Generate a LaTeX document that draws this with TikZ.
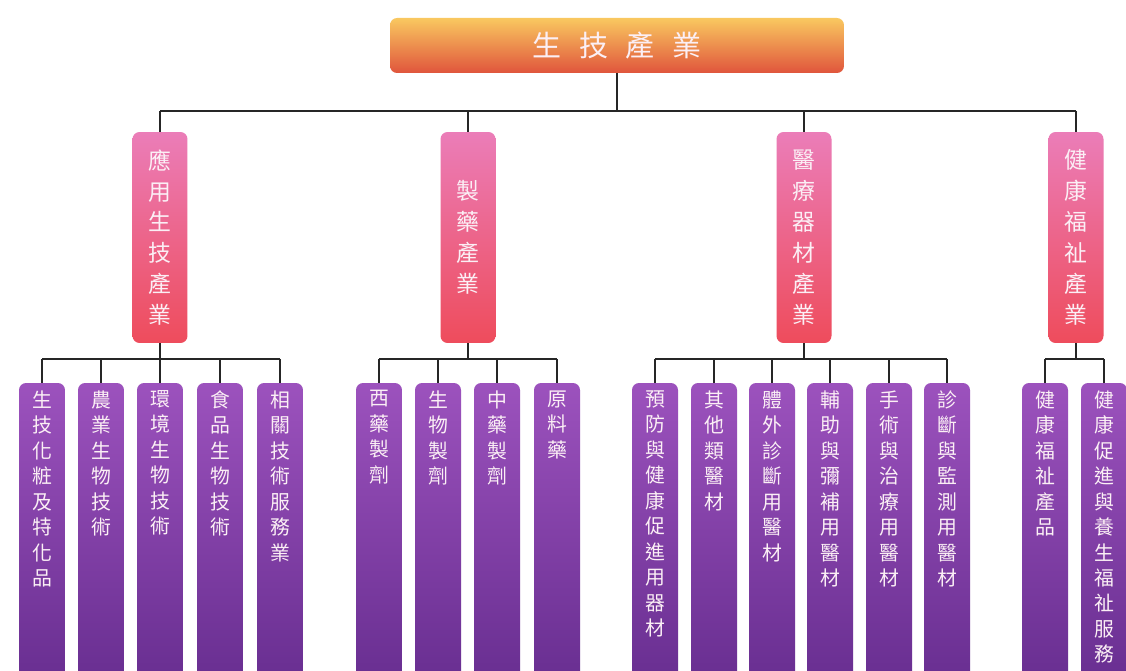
\documentclass[tikz,border=0pt]{standalone}
\usepackage{fontspec}
\setmainfont{Noto Sans CJK TC}
\usetikzlibrary{positioning}
\definecolor{rootTop}{HTML}{F9C860}
\definecolor{rootMid}{HTML}{F0913F}
\definecolor{rootBot}{HTML}{E0553C}
\definecolor{secTop}{HTML}{EB7DB8}
\definecolor{secBot}{HTML}{EE4C5C}
\definecolor{leafTop}{HTML}{9C52BD}
\definecolor{leafBot}{HTML}{652C8E}
\definecolor{lbl}{HTML}{FBEFF5}

\begin{document}
\begin{tikzpicture}[x=0.02cm, y=-0.02cm,
            rootnode/.style={rectangle, rounded corners=4pt, text=lbl, top color=rootTop, middle color=rootMid, bottom color=rootBot, minimum width=9.08cm, minimum height=1.1cm, font=\fontsize{16.5}{18}\selectfont},
            sectornode/.style={rectangle, rounded corners=4pt, text=lbl, top color=secTop, bottom color=secBot, minimum width=1.1cm, minimum height=4.22cm, align=center, inner sep=0pt, font=\fontsize{13}{17.6}\selectfont},
            leafnode/.style={rectangle, rounded corners=4pt, top color=leafTop, bottom color=leafBot, minimum width=0.92cm, minimum height=6.34cm},
            leaftext/.style={text=lbl, align=center, inner sep=0pt, font=\fontsize{11.3}{14.5}\selectfont},
            conn/.style={draw=black!85, line width=1pt},
            ]
            \useasboundingbox (0,0) rectangle (1126,671);
            \clip (0,0) rectangle (1126,671);
            \fill[white] (0,0) rectangle (1126,671);

            %Nodes
            \node[rootnode]   (root) at (617,45.5) {生\hspace{0.62em}技\hspace{0.62em}產\hspace{0.62em}業};

            \node[sectornode] (a) at (160,237.5) {應\\用\\生\\技\\產\\業};
            \node[sectornode] (b) at (468,237.5) {製\\藥\\產\\業};
            \node[sectornode] (c) at (804,237.5) {醫\\療\\器\\材\\產\\業};
            \node[sectornode] (d) at (1076,237.5) {健\\康\\福\\祉\\產\\業};

            \node[leafnode] (a1) at (42,541.5) {};
            \node[leafnode] (a2) at (101,541.5) {};
            \node[leafnode] (a3) at (160,541.5) {};
            \node[leafnode] (a4) at (220,541.5) {};
            \node[leafnode] (a5) at (280,541.5) {};
            \node[leafnode] (b1) at (379,541.5) {};
            \node[leafnode] (b2) at (438,541.5) {};
            \node[leafnode] (b3) at (497,541.5) {};
            \node[leafnode] (b4) at (557,541.5) {};
            \node[leafnode] (c1) at (655,541.5) {};
            \node[leafnode] (c2) at (714,541.5) {};
            \node[leafnode] (c3) at (772,541.5) {};
            \node[leafnode] (c4) at (830,541.5) {};
            \node[leafnode] (c5) at (889,541.5) {};
            \node[leafnode] (c6) at (947,541.5) {};
            \node[leafnode] (d1) at (1045,541.5) {};
            \node[leafnode] (d2) at (1104,541.5) {};

            \node[leaftext] (a1t) [below=0.15cm of a1.north] {生\\技\\化\\粧\\及\\特\\化\\品};
            \node[leaftext] (a2t) [below=0.15cm of a2.north] {農\\業\\生\\物\\技\\術};
            \node[leaftext] (a3t) [below=0.15cm of a3.north] {環\\境\\生\\物\\技\\術};
            \node[leaftext] (a4t) [below=0.15cm of a4.north] {食\\品\\生\\物\\技\\術};
            \node[leaftext] (a5t) [below=0.15cm of a5.north] {相\\關\\技\\術\\服\\務\\業};
            \node[leaftext] (b1t) [below=0.15cm of b1.north] {西\\藥\\製\\劑};
            \node[leaftext] (b2t) [below=0.15cm of b2.north] {生\\物\\製\\劑};
            \node[leaftext] (b3t) [below=0.15cm of b3.north] {中\\藥\\製\\劑};
            \node[leaftext] (b4t) [below=0.15cm of b4.north] {原\\料\\藥};
            \node[leaftext] (c1t) [below=0.15cm of c1.north] {預\\防\\與\\健\\康\\促\\進\\用\\器\\材};
            \node[leaftext] (c2t) [below=0.15cm of c2.north] {其\\他\\類\\醫\\材};
            \node[leaftext] (c3t) [below=0.15cm of c3.north] {體\\外\\診\\斷\\用\\醫\\材};
            \node[leaftext] (c4t) [below=0.15cm of c4.north] {輔\\助\\與\\彌\\補\\用\\醫\\材};
            \node[leaftext] (c5t) [below=0.15cm of c5.north] {手\\術\\與\\治\\療\\用\\醫\\材};
            \node[leaftext] (c6t) [below=0.15cm of c6.north] {診\\斷\\與\\監\\測\\用\\醫\\材};
            \node[leaftext] (d1t) [below=0.15cm of d1.north] {健\\康\\福\\祉\\產\\品};
            \node[leaftext] (d2t) [below=0.15cm of d2.north] {健\\康\\促\\進\\與\\養\\生\\福\\祉\\服\\務};

            %Lines
            \coordinate (bus) at (617,111);
            \coordinate (busl) at (0,359);
            \draw[conn] (root.south) -- (root.south |- bus);
            \draw[conn] (bus -| a) -- (bus -| d);
            \draw[conn] (bus -| a) -- (a.north);
            \draw[conn] (bus -| b) -- (b.north);
            \draw[conn] (bus -| c) -- (c.north);
            \draw[conn] (bus -| d) -- (d.north);

            \draw[conn] (a.south) -- (a.south |- busl);
            \draw[conn] (busl -| a1) -- (busl -| a5);
            \draw[conn] (busl -| a1) -- (a1.north);
            \draw[conn] (busl -| a2) -- (a2.north);
            \draw[conn] (busl -| a3) -- (a3.north);
            \draw[conn] (busl -| a4) -- (a4.north);
            \draw[conn] (busl -| a5) -- (a5.north);

            \draw[conn] (b.south) -- (b.south |- busl);
            \draw[conn] (busl -| b1) -- (busl -| b4);
            \draw[conn] (busl -| b1) -- (b1.north);
            \draw[conn] (busl -| b2) -- (b2.north);
            \draw[conn] (busl -| b3) -- (b3.north);
            \draw[conn] (busl -| b4) -- (b4.north);

            \draw[conn] (c.south) -- (c.south |- busl);
            \draw[conn] (busl -| c1) -- (busl -| c6);
            \draw[conn] (busl -| c1) -- (c1.north);
            \draw[conn] (busl -| c2) -- (c2.north);
            \draw[conn] (busl -| c3) -- (c3.north);
            \draw[conn] (busl -| c4) -- (c4.north);
            \draw[conn] (busl -| c5) -- (c5.north);
            \draw[conn] (busl -| c6) -- (c6.north);

            \draw[conn] (d.south) -- (d.south |- busl);
            \draw[conn] (busl -| d1) -- (busl -| d2);
            \draw[conn] (busl -| d1) -- (d1.north);
            \draw[conn] (busl -| d2) -- (d2.north);
\end{tikzpicture}
\end{document}
